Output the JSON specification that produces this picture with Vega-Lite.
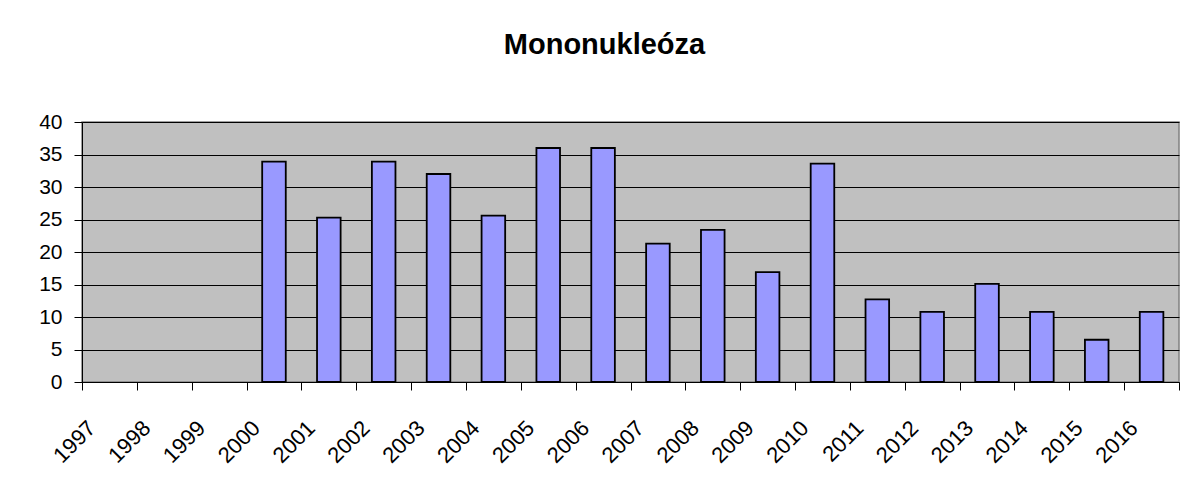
{
  "$schema": "https://vega.github.io/schema/vega-lite/v6.json",
  "width": 1097,
  "height": 260,
  "autosize": {"type": "none"},
  "padding": {"left": 82, "top": 122, "right": 7, "bottom": 102},
  "background": "white",
  "title": {
    "text": "Mononukleóza",
    "font": "Liberation Sans",
    "fontSize": 29,
    "fontWeight": "bold",
    "color": "black",
    "anchor": "middle",
    "offset": 51,
    "dx": -26
  },
  "data": {
    "values": [
      {"year": "1997", "cases": null},
      {"year": "1998", "cases": null},
      {"year": "1999", "cases": null},
      {"year": "2000", "cases": 33.9},
      {"year": "2001", "cases": 25.3},
      {"year": "2002", "cases": 33.9},
      {"year": "2003", "cases": 32.0},
      {"year": "2004", "cases": 25.6},
      {"year": "2005", "cases": 36.0},
      {"year": "2006", "cases": 36.0},
      {"year": "2007", "cases": 21.3},
      {"year": "2008", "cases": 23.4},
      {"year": "2009", "cases": 16.9},
      {"year": "2010", "cases": 33.6},
      {"year": "2011", "cases": 12.7},
      {"year": "2012", "cases": 10.8},
      {"year": "2013", "cases": 15.1},
      {"year": "2014", "cases": 10.8},
      {"year": "2015", "cases": 6.5},
      {"year": "2016", "cases": 10.8}
    ]
  },
  "mark": {"type": "bar", "fill": "#9999FF", "stroke": "black", "strokeWidth": 1.8, "width": {"band": 0.43}},
  "encoding": {
    "x": {
      "field": "year",
      "type": "ordinal",
      "scale": {
        "domain": ["1997","1998","1999","2000","2001","2002","2003","2004","2005","2006","2007","2008","2009","2010","2011","2012","2013","2014","2015","2016"],
        "paddingInner": 0,
        "paddingOuter": 0
      },
      "axis": {
        "title": null,
        "labelAngle": -45,
        "tickBand": "extent",
        "labelOffset": -25,
        "labelPadding": 27,
        "tickSize": 8,
        "tickColor": "black",
        "domainColor": "black",
        "labelFont": "Liberation Sans",
        "labelFontSize": 22,
        "labelColor": "black",
        "grid": false
      }
    },
    "y": {
      "field": "cases",
      "type": "quantitative",
      "scale": {"domain": [0, 40], "nice": false},
      "axis": {
        "title": null,
        "values": [0, 5, 10, 15, 20, 25, 30, 35, 40],
        "tickSize": 8,
        "tickColor": "black",
        "domainColor": "black",
        "labelPadding": 12,
        "labelFont": "Liberation Sans",
        "labelFontSize": 21,
        "labelColor": "black",
        "grid": true,
        "gridColor": "black",
        "gridWidth": 1,
        "gridOpacity": 1
      }
    }
  },
  "config": {
    "view": {"fill": "#C0C0C0", "stroke": "#808080", "strokeWidth": 1.5}
  }
}
